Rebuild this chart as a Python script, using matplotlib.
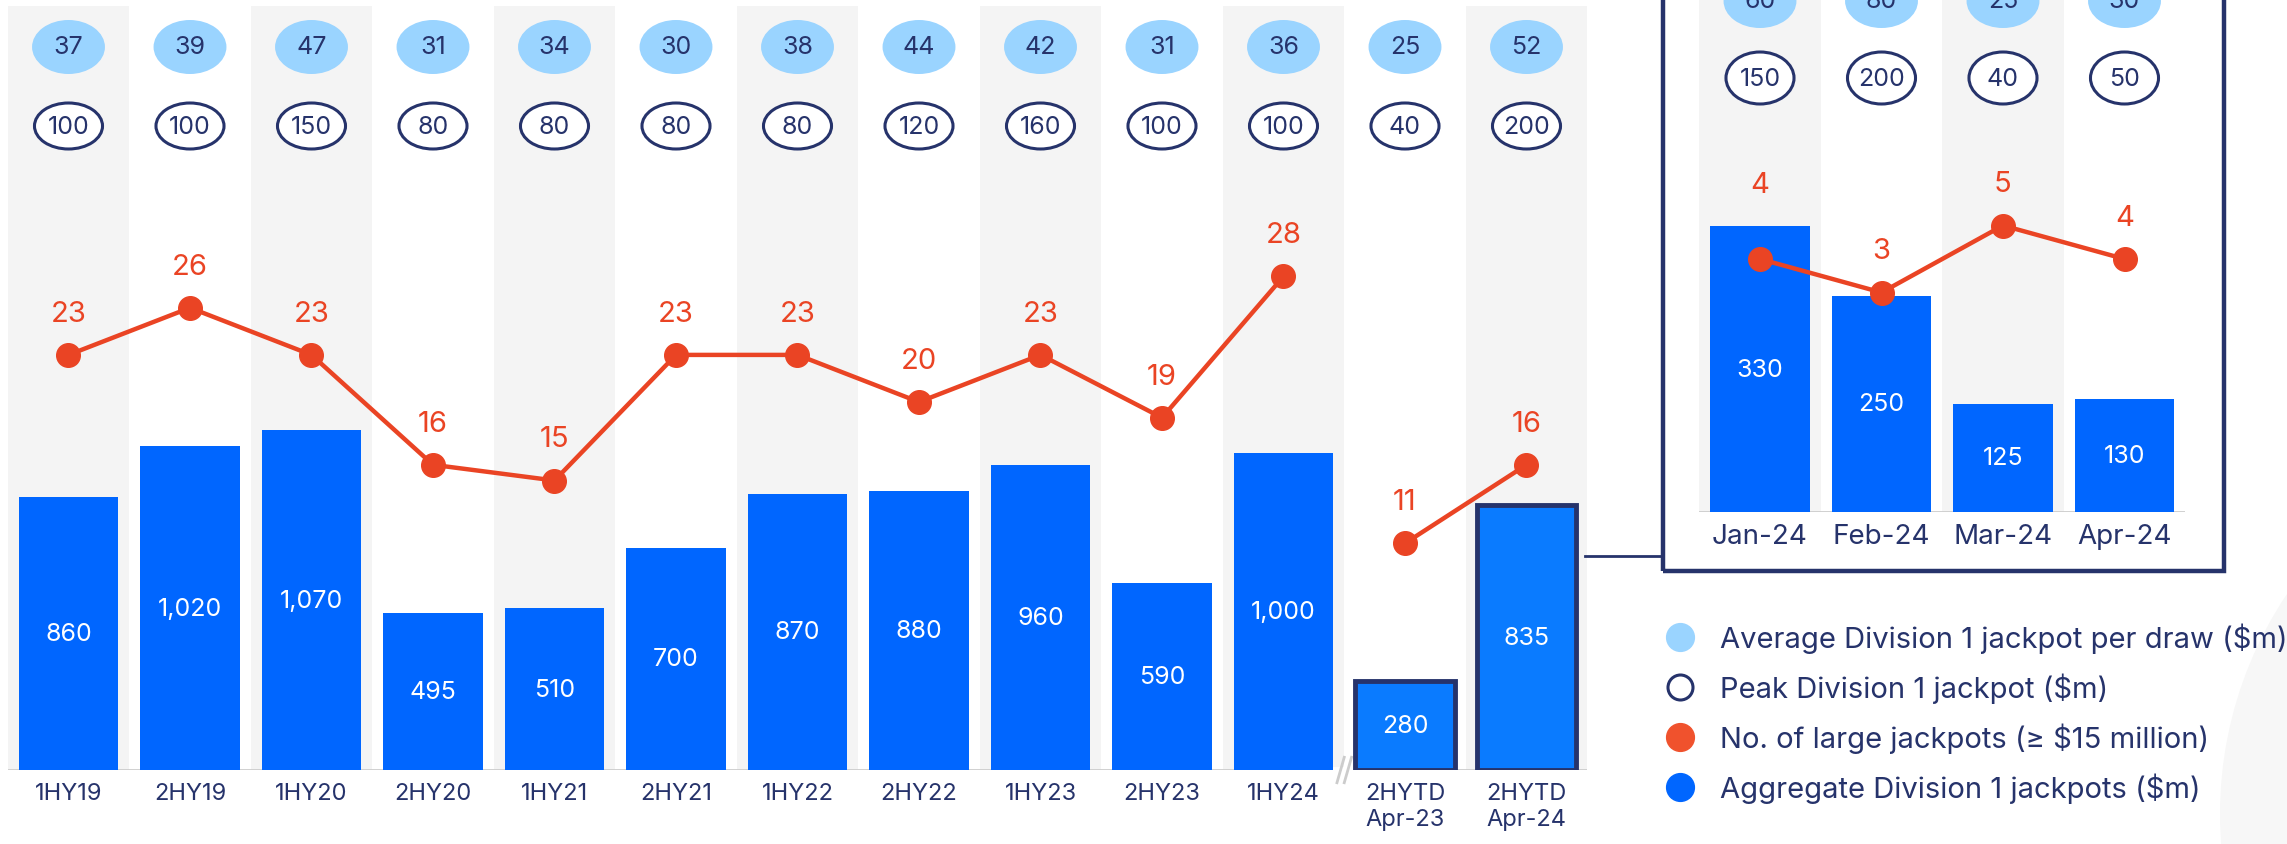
import numpy as np
import matplotlib
matplotlib.use("Agg")
import matplotlib.pyplot as plt
from matplotlib import transforms
from matplotlib.lines import Line2D
from matplotlib.patches import Ellipse, Rectangle

# half-year panel
periods = ["1HY19", "2HY19", "1HY20", "2HY20", "1HY21", "2HY21", "1HY22",
           "2HY22", "1HY23", "2HY23", "1HY24", "2HYTD\nApr-23", "2HYTD\nApr-24"]
aggregate = [860, 1020, 1070, 495, 510, 700, 870, 880, 960, 590, 1000, 280, 835]
large_jackpots = [23, 26, 23, 16, 15, 23, 23, 20, 23, 19, 28, 11, 16]
avg_jackpot = [37, 39, 47, 31, 34, 30, 38, 44, 42, 31, 36, 25, 52]
peak_jackpot = [100, 100, 150, 80, 80, 80, 80, 120, 160, 100, 100, 40, 200]

# monthly inset (top row is cut off in the source image)
months = ["Jan-24", "Feb-24", "Mar-24", "Apr-24"]
month_aggregate = [330, 250, 125, 130]
month_large = [4, 3, 5, 4]
month_avg = [60, 80, 25, 30]
month_peak = [150, 200, 40, 50]

NAVY = "#26336B"
BLUE = "#0066FF"
BLUE_HI = "#0A7BFF"
LIGHT = "#9AD4FF"
RED = "#EA4424"
BAND = "#F4F4F4"

W, H = 2287, 845
plt.rcParams["font.family"] = ["Inter", "DejaVu Sans"]
fig = plt.figure(figsize=(W / 100, H / 100), dpi=100)


def px_rect(left, top, right, bottom):
    return [left / W, 1 - bottom / H, (right - left) / W, (bottom - top) / H]


def panel(rect, labels, bars, counts, avg, peak, bar_scale, line_zero, line_scale,
          avg_y, peak_y, peak_h, band_top, segments, boxed, label_pad, label_size):
    left, top, right, bottom = rect
    h = bottom - top
    n = len(labels)
    x = np.arange(n)

    ax = fig.add_axes(px_rect(*rect))
    ax.set_xlim(-0.5, n - 0.5)
    ax.set_ylim(0, h / bar_scale)
    ax.patch.set_alpha(0)
    for s in ax.spines.values():
        s.set_visible(False)
    ax.set_yticks([])
    ax.set_xticks(x, labels)
    ax.tick_params(axis="x", length=0, pad=label_pad, labelsize=label_size,
                   labelcolor=NAVY)

    for i in range(0, n, 2):
        ax.axvspan(i - 0.5, i + 0.5, ymax=(bottom - band_top) / h, color=BAND, lw=0, zorder=0)
    ax.axhline(0, color="#CCCCCC", lw=2, zorder=1)

    cols = [BLUE_HI if i in boxed else BLUE for i in range(n)]
    rects = ax.bar(x, bars, width=0.82, color=cols, zorder=2)
    for i in boxed:
        rects[i].set_edgecolor(NAVY)
        rects[i].set_linewidth(3.5)
    for i, v in enumerate(bars):
        ax.text(i, v / 2, f"{v:,}", ha="center", va="center", color="white",
                fontsize=18, zorder=3)

    # top rows: average (filled) and peak (outlined) jackpots
    blend = transforms.blended_transform_factory(ax.transData, ax.transAxes)
    for i in range(n):
        ya = (bottom - avg_y) / h
        yp = (bottom - peak_y) / h
        ax.add_patch(Ellipse((i, ya), 0.6, 54 / h, transform=blend,
                             facecolor=LIGHT, edgecolor="none", zorder=3))
        ax.text(i, ya, str(avg[i]), transform=blend, ha="center", va="center",
                color=NAVY, fontsize=18, zorder=4)
        ax.add_patch(Ellipse((i, yp), 0.56, peak_h / h, transform=blend,
                             facecolor="white", edgecolor=NAVY, lw=2.2, zorder=3))
        ax.text(i, yp, str(peak[i]), transform=blend, ha="center", va="center",
                color=NAVY, fontsize=18, zorder=4)

    tw = ax.twinx()
    tw.set_ylim(-(bottom - line_zero) / line_scale, (line_zero - top) / line_scale)
    tw.set_axis_off()
    for s, e in segments:
        tw.plot(x[s:e], counts[s:e], color=RED, lw=3.2, marker="o", ms=17, zorder=5)
    for i, c in enumerate(counts):
        bar_top = ax.transData.transform((i, bars[i]))[1]
        bar_top = tw.transData.inverted().transform((0, bar_top))[1]
        tw.annotate(str(c), (i, max(c, bar_top)), xytext=(0, 30),
                    textcoords="offset points", ha="center", va="center",
                    color=RED, fontsize=21)
    return ax


main = panel((7.75, 0, 1587.25, 771), periods, aggregate, large_jackpots,
             avg_jackpot, peak_jackpot, 0.3175, 717, 15.7, 48, 127, 46, 7,
             [(0, 11), (11, 13)], [11, 12], 9, 17)

# axis break between 1HY24 and the year-to-date bars
main.plot([10.42, 10.58], [0, 0], color="white", lw=5, zorder=1.5)
for dx in (-0.03, 0.03):
    main.plot([10.47 + dx, 10.53 + dx], [-40, 40], color="#CCCCCC", lw=2,
              clip_on=False, zorder=1.6)

inset = panel((1699.25, 0, 2185.25, 513), months, month_aggregate, month_large,
              month_avg, month_peak, 0.866, 394, 33.5, 2, 79, 52, 0,
              [(0, 4)], [], 8, 20)

# inset frame and connector
fig.add_artist(Rectangle((1663 / W, 1 - 572 / H), (2224 - 1663) / W, 0.7,
                         transform=fig.transFigure, fill=False, edgecolor=NAVY, lw=3.2))
fig.add_artist(Line2D([1585 / W, 1663 / W], [1 - 557 / H] * 2,
                      transform=fig.transFigure, color=NAVY, lw=2))

# faint decorative circle bottom right
fig.add_artist(Ellipse((2615 / W, 1 - 815 / H), 2 * 395 / W, 2 * 395 / H,
                       transform=fig.transFigure, facecolor="#F7F7F7",
                       edgecolor="none", zorder=-5))

handles = [
    Line2D([], [], ls="none", marker="o", ms=20, mfc=LIGHT, mec=LIGHT),
    Line2D([], [], ls="none", marker="o", ms=18, mfc="white", mec=NAVY, mew=2.2),
    Line2D([], [], ls="none", marker="o", ms=20, mfc="#F0522D", mec="#F0522D"),
    Line2D([], [], ls="none", marker="o", ms=20, mfc=BLUE, mec=BLUE),
]
legend_labels = [
    "Average Division 1 jackpot per draw ($m)",
    "Peak Division 1 jackpot ($m)",
    "No. of large jackpots (\u2265 $15 million)",
    "Aggregate Division 1 jackpots ($m)",
]
fig.legend(handles, legend_labels, loc="upper left",
           bbox_to_anchor=(1667 / W, 1 - 624 / H), frameon=False, fontsize=21,
           labelcolor=NAVY, handlelength=0.88, handletextpad=0.92,
           labelspacing=0.66, borderpad=0, borderaxespad=0)

fig.savefig("out.png", dpi=100)
